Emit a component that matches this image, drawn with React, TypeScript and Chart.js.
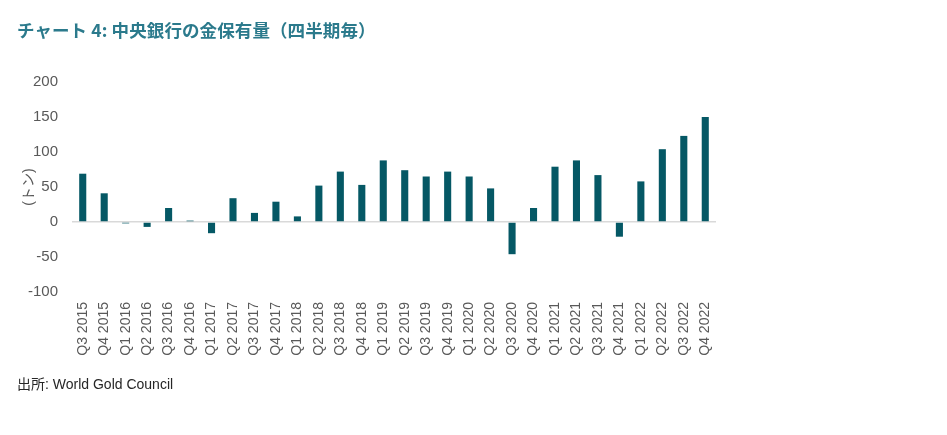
import React, { useEffect, useRef } from "react";
import { Chart, registerables } from "chart.js";

Chart.register(...registerables);

const TITLE = "チャート 4: 中央銀行の金保有量（四半期毎）";
const SOURCE = "出所: World Gold Council";
const Y_TITLE = "(トン)";

const categories = [
  "Q3 2015", "Q4 2015",
  "Q1 2016", "Q2 2016", "Q3 2016", "Q4 2016",
  "Q1 2017", "Q2 2017", "Q3 2017", "Q4 2017",
  "Q1 2018", "Q2 2018", "Q3 2018", "Q4 2018",
  "Q1 2019", "Q2 2019", "Q3 2019", "Q4 2019",
  "Q1 2020", "Q2 2020", "Q3 2020", "Q4 2020",
  "Q1 2021", "Q2 2021", "Q3 2021", "Q4 2021",
  "Q1 2022", "Q2 2022", "Q3 2022", "Q4 2022",
];

const holdings = [
  69, 41,
  -2, -7, 20, 2,
  -16, 34, 13, 29,
  8, 52, 72, 53,
  88, 74, 65, 72,
  65, 48, -46, 20,
  79, 88, 67, -21,
  58, 104, 123, 150,
];

const Y_MIN = -100;
const Y_MAX = 200;
const Y_STEP = 50;

const BAR_COLOR = "#055865";
const TEXT_COLOR = "#595959";
const TITLE_COLOR = "#2B7A8C";

export default function App() {
  const canvasRef = useRef<HTMLCanvasElement | null>(null);

  useEffect(() => {
    if (!canvasRef.current) return;
    const chart = new Chart(canvasRef.current, {
      type: "bar",
      data: {
        labels: categories,
        datasets: [
          {
            data: holdings,
            backgroundColor: BAR_COLOR,
            borderWidth: 0,
            barPercentage: 0.66,
            categoryPercentage: 0.5,
          },
        ],
      },
      options: {
        animation: false,
        responsive: false,
        maintainAspectRatio: false,
        layout: { padding: { left: 0, top: 82, right: 231, bottom: 0 } },
        plugins: {
          legend: { display: false },
          tooltip: { enabled: false },
          title: { display: false },
        },
        scales: {
          x: {
            grid: { display: false, drawTicks: false },
            border: { display: false },
            ticks: {
              color: TEXT_COLOR,
              font: { family: "Liberation Sans, Arial, sans-serif", size: 14 },
              minRotation: 90,
              maxRotation: 90,
              autoSkip: false,
              padding: 10,
            },
            afterFit: (scale: any) => {
              scale.height = 143;
            },
          },
          y: {
            min: Y_MIN,
            max: Y_MAX,
            grid: {
              display: true,
              drawTicks: false,
              color: (ctx: any) => (ctx.tick && ctx.tick.value === 0 ? "#D9D9D9" : "rgba(0,0,0,0)"),
              lineWidth: 1.5,
            },
            border: { display: false },
            ticks: {
              stepSize: Y_STEP,
              color: TEXT_COLOR,
              font: { family: "Liberation Sans, Arial, sans-serif", size: 15 },
              padding: 14,
            },
            title: {
              display: true,
              text: Y_TITLE,
              color: TEXT_COLOR,
              font: { family: "Liberation Sans, Noto Sans CJK JP, sans-serif", size: 14 },
              padding: { top: 21, bottom: 0 },
            },
            afterFit: (scale: any) => {
              scale.width = 72;
            },
          },
        },
      },
    });
    return () => chart.destroy();
  }, []);

  return (
    <div
      style={{
        position: "absolute",
        left: 0,
        top: 0,
        width: 947,
        height: 435,
        background: "#fff",
        overflow: "hidden",
      }}
    >
      <canvas
        ref={canvasRef}
        width={947}
        height={435}
        style={{ position: "absolute", left: 0, top: 0, width: 947, height: 435 }}
      />
      <div
        style={{
          position: "absolute",
          left: 17,
          top: 19,
          fontFamily: "'Noto Sans CJK JP', 'Liberation Sans', sans-serif",
          fontWeight: 700,
          fontSize: 17.5,
          lineHeight: "22px",
          color: TITLE_COLOR,
          whiteSpace: "nowrap",
          letterSpacing: "0.1px",
        }}
      >
        {TITLE}
      </div>
      <div
        style={{
          position: "absolute",
          left: 17,
          top: 374,
          fontFamily: "'Liberation Sans', 'Noto Sans CJK JP', sans-serif",
          fontSize: 14,
          lineHeight: "20px",
          color: "#262626",
          whiteSpace: "nowrap",
        }}
      >
        {SOURCE}
      </div>
    </div>
  );
}
